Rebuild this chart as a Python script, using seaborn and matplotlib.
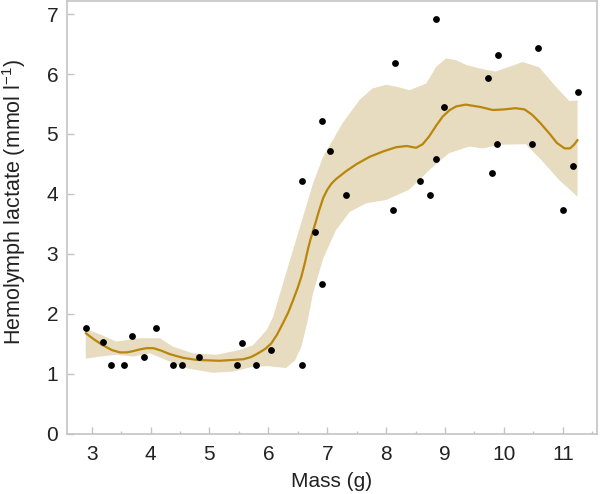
import numpy as np
import pandas as pd
import matplotlib
matplotlib.use("Agg")
import matplotlib.pyplot as plt
import seaborn as sns

# Observed points
mass = [2.90, 3.19, 3.33, 3.55, 3.69, 3.89, 4.09, 4.38, 4.54, 4.82, 5.47, 5.55, 5.79, 6.04,
        6.58, 6.58, 6.79, 6.91, 6.91, 7.04, 7.32, 8.12, 8.15, 8.58, 8.75, 8.85, 8.85, 8.99,
        9.73, 9.80, 9.89, 9.90, 10.47, 10.57, 11.00, 11.17, 11.26]
lactate = [1.77, 1.53, 1.155, 1.155, 1.64, 1.28, 1.77, 1.155, 1.155, 1.28, 1.155, 1.52, 1.155, 1.40,
           1.155, 4.22, 3.37, 2.50, 5.21, 4.72, 3.98, 3.73, 6.18, 4.22, 3.98, 4.59, 6.92, 5.45,
           5.93, 4.35, 4.83, 6.31, 4.83, 6.43, 3.73, 4.47, 5.70]

# Fitted curve
fit_x = [2.90, 3.05, 3.19, 3.34, 3.48, 3.60, 3.70, 3.82, 3.93, 4.05, 4.18, 4.33, 4.55, 4.78,
         5.17, 5.57, 5.70, 5.80, 5.95, 6.05, 6.15, 6.25, 6.34, 6.42, 6.50, 6.56, 6.62, 6.67,
         6.72, 6.78, 6.86, 6.93, 7.00, 7.07, 7.15, 7.32, 7.50, 7.72, 7.95, 8.17, 8.35, 8.51,
         8.62, 8.73, 8.85, 8.96, 9.08, 9.19, 9.35, 9.60, 9.81, 10.00, 10.20, 10.35, 10.48, 10.62,
         10.77, 10.90, 11.03, 11.12, 11.19, 11.25]
fit_y = [1.68, 1.57, 1.48, 1.40, 1.36, 1.36, 1.38, 1.41, 1.43, 1.43, 1.39, 1.33, 1.27, 1.235,
         1.22, 1.245, 1.28, 1.33, 1.42, 1.51, 1.66, 1.85, 2.03, 2.23, 2.44, 2.62, 2.85, 3.07,
         3.26, 3.45, 3.72, 3.93, 4.07, 4.17, 4.25, 4.38, 4.50, 4.62, 4.71, 4.78, 4.80, 4.77,
         4.83, 4.96, 5.14, 5.29, 5.40, 5.46, 5.49, 5.45, 5.40, 5.41, 5.43, 5.41, 5.32, 5.18,
         5.01, 4.85, 4.76, 4.76, 4.82, 4.90]

# Confidence band
up_x = [2.90, 3.14, 3.42, 3.82, 4.16, 4.38, 4.72, 5.12, 5.51, 5.74, 5.97, 6.08, 6.25, 6.42,
        6.59, 6.76, 6.93, 7.26, 7.55, 7.77, 8.00, 8.17, 8.40, 8.68, 8.85, 9.02, 9.19, 9.36,
        9.69, 9.86, 10.03, 10.32, 10.60, 10.88, 11.11, 11.25]
up_y = [1.75, 1.66, 1.54, 1.595, 1.595, 1.455, 1.345, 1.32, 1.40, 1.48, 1.73, 1.95, 2.51, 3.07,
        3.62, 4.18, 4.62, 5.18, 5.57, 5.76, 5.82, 5.79, 5.73, 5.84, 6.12, 6.26, 6.23, 6.15,
        6.07, 6.04, 6.10, 6.20, 6.11, 5.79, 5.55, 5.56]
lo_x = [2.90, 3.14, 3.42, 3.71, 3.99, 4.27, 4.61, 5.06, 5.40, 5.74, 6.00, 6.30, 6.45, 6.56,
        6.66, 6.76, 6.93, 7.15, 7.38, 7.66, 8.00, 8.39, 8.79, 9.07, 9.41, 9.64, 9.92, 10.37,
        10.65, 10.94, 11.25]
lo_y = [1.255, 1.29, 1.32, 1.29, 1.345, 1.23, 1.095, 1.02, 1.04, 1.12, 1.13, 1.10, 1.22, 1.45,
        1.85, 2.35, 2.92, 3.40, 3.70, 3.845, 3.90, 4.07, 4.45, 4.68, 4.79, 4.76, 4.82, 4.83,
        4.55, 4.23, 3.955]

x_ticks = [3, 4, 5, 6, 7, 8, 9, 10, 11]
x_minor = [3.5, 4.5, 5.5, 6.5, 7.5, 8.5, 9.5, 10.5, 11.5]
y_ticks = [0, 1, 2, 3, 4, 5, 6, 7]

sns.set_theme(style="ticks")
plt.rcParams['font.family'] = ['Liberation Sans', 'DejaVu Sans']
plt.rcParams['mathtext.default'] = 'regular'

fig = plt.figure(figsize=(6.0, 4.94), dpi=100)
ax = fig.add_axes([0.111, 0.1215, 0.884, 0.8765])

band_col = '#E8DCC0'
line_col = '#B8860B'
spine_col = '#C4C4C4'
text_col = '#222222'

ax.fill(list(up_x) + list(lo_x[::-1]), list(up_y) + list(lo_y[::-1]),
        color=band_col, linewidth=0, zorder=1)
sns.lineplot(x=fit_x, y=fit_y, ax=ax, color=line_col, linewidth=1.6, sort=False, zorder=2)
sns.scatterplot(x=mass, y=lactate, ax=ax, color='black', s=24, linewidth=0, zorder=3)

ax.set_xlim(2.575, 11.58)
ax.set_ylim(0, 7.217)
ax.set_xticks(x_ticks)
ax.set_xticks(x_minor, minor=True)
ax.set_yticks(y_ticks)
ax.tick_params(axis='both', which='major', direction='in', length=5, width=1,
               color=spine_col, labelsize=15, labelcolor=text_col)
ax.tick_params(axis='x', which='major', pad=8)
ax.tick_params(axis='y', which='major', pad=6)
ax.tick_params(axis='x', which='minor', direction='in', length=2.5, width=1, color=spine_col)

for s in ax.spines.values():
    s.set_visible(True)
    s.set_color(spine_col)
    s.set_linewidth(1.2)

ax.set_xlabel('Mass (g)', fontsize=15, color=text_col)
ax.set_ylabel('Hemolymph lactate (mmol l$^{-1}$)', fontsize=15.5, color=text_col)
ax.xaxis.set_label_coords(0.5, -0.088)
ax.yaxis.set_label_coords(-0.072, 0.535)

fig.savefig('out.png', dpi=100)
